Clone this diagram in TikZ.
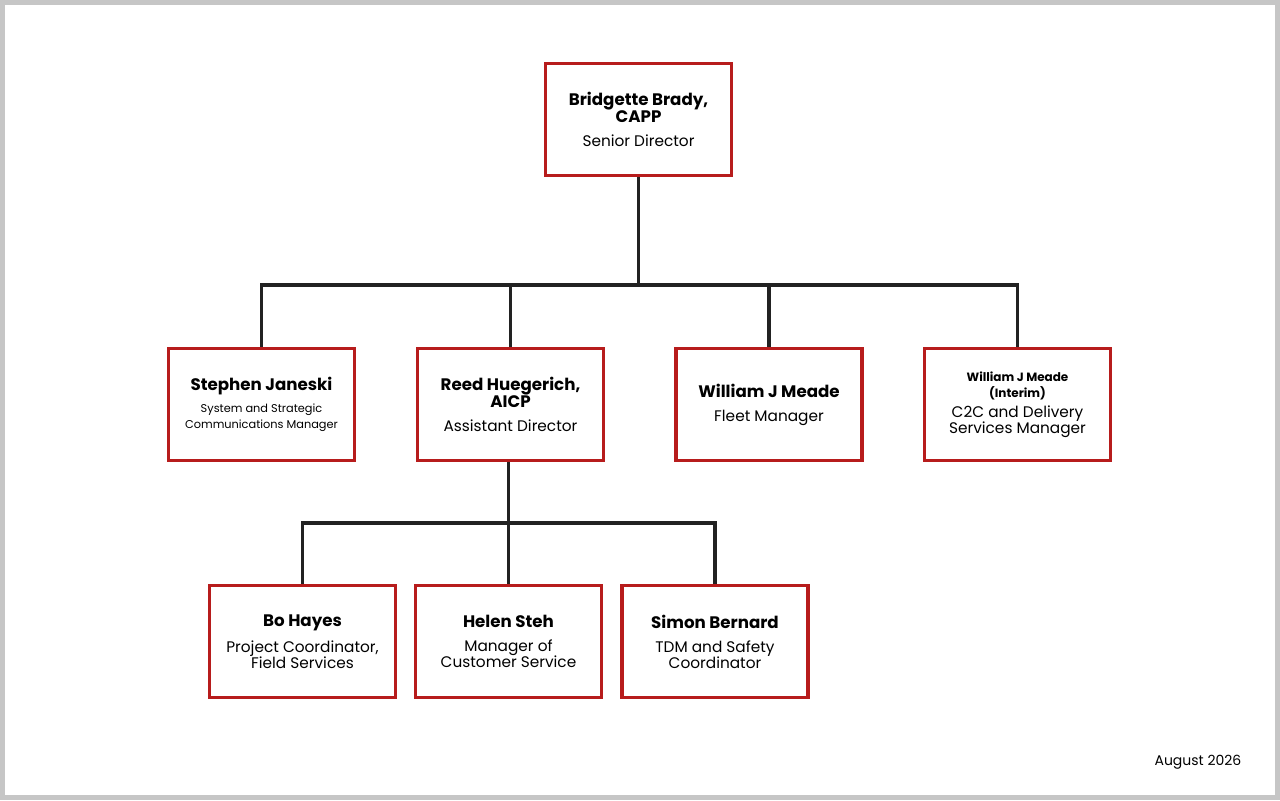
\documentclass[tikz,border=0pt]{standalone}
\usepackage{fontspec}
\setmainfont{Poppins}
\usetikzlibrary{positioning}
\definecolor{boxred}{HTML}{B71C1C}
\definecolor{linegray}{HTML}{222222}
\newcommand\bnm{\bfseries\fontsize{12.5}{17}\selectfont}
\newcommand\snm{\bfseries\fontsize{9}{12.5}\selectfont}
\newcommand\ttl{\mdseries\fontsize{11.5}{16}\selectfont}
\newcommand\smt{\mdseries\fontsize{8.5}{11.5}\selectfont}
\begin{document}
\begin{tikzpicture}[x=0.75pt, y=-0.75pt,
    box/.style={draw=boxred, line width=2.6pt, minimum width=139.5pt, minimum height=84pt, align=center, inner sep=2pt},
    link/.style={draw=linegray, line width=2.4pt}]
  \fill[gray!45] (0,0) rectangle (1280,800);
  \fill[white] (5,5) rectangle (1275,795);
  % top
  \node[box] (brady) at (638.5,119.5) {\bnm Bridgette Brady,\\\bnm CAPP\\[6pt]\ttl Senior Director};
  % second row
  \node[box] (janeski) at (261.5,404.5) {\bnm Stephen Janeski\\[5pt]\smt System and Strategic\\\smt Communications Manager};
  \node[box] (reed) at (510.5,404.5) {\bnm Reed Huegerich,\\\bnm AICP\\[6pt]\ttl Assistant Director};
  \node[box] (meade) at (769,404.5) {\bnm William J Meade\\[6pt]\ttl Fleet Manager};
  \node[box] (c2c) at (1017.5,404.5) {\snm William J Meade\\\snm (Interim)\\[3pt]\ttl C2C and Delivery\\\ttl Services Manager};
  % third row
  \node[box] (hayes) at (302.5,641.5) {\bnm Bo Hayes\\[6pt]\ttl Project Coordinator,\\\ttl Field Services};
  \node[box] (steh) at (508.5,641.5) {\bnm Helen Steh\\[6pt]\ttl Manager of\\\ttl Customer Service};
  \node[box] (bernard) at (715,641.5) {\bnm Simon Bernard\\[6pt]\ttl TDM and Safety\\\ttl Coordinator};
  % connectors
  \coordinate (bus1) at (638.5,285);
  \coordinate (bus2) at (508.5,523);
  \draw[link] (brady.south) -- (bus1);
  \foreach \n in {janeski, reed, meade, c2c}
    \draw[link] (bus1) -| (\n.north);
  \draw[link] (reed.south -| bus2) -- (bus2);
  \foreach \n in {hayes, steh, bernard}
    \draw[link] (bus2) -| (\n.north);
  \node[anchor=east, font=\fontsize{10.5}{12}\selectfont] (date) at (1246,762) {August 2026};
\end{tikzpicture}
\end{document}
